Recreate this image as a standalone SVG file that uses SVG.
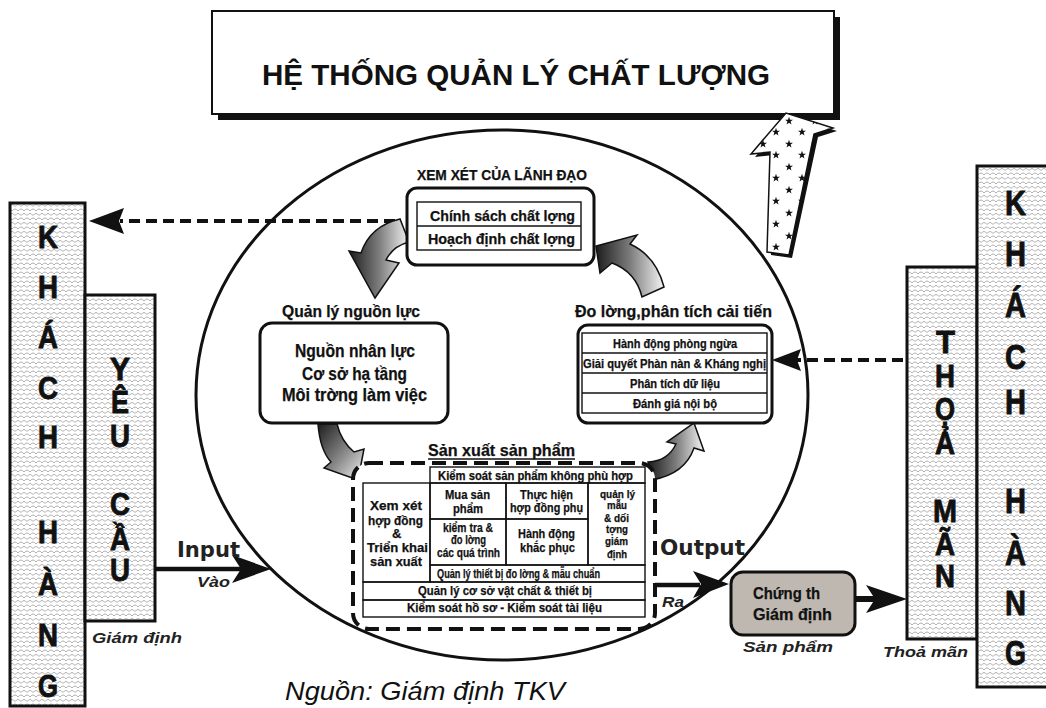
<svg xmlns="http://www.w3.org/2000/svg" width="1046" height="708" viewBox="0 0 1046 708">
<style>
.c{font-family:"Liberation Sans Narrow","Liberation Sans",Arial,sans-serif;font-weight:bold;fill:#111;stroke:#111;stroke-width:0.25}
.big{font-family:"Liberation Sans",Arial,sans-serif;font-weight:bold;font-size:32px;fill:#111;stroke:#111;stroke-width:0.9}
.bigr{font-family:"Liberation Sans",Arial,sans-serif;font-weight:bold;font-size:35px;fill:#111;stroke:#111;stroke-width:0.9}
.it{font-family:"Liberation Sans",Arial,sans-serif;font-weight:bold;font-style:italic;fill:#222}
.io{font-family:"DejaVu Sans",Verdana,sans-serif;font-weight:bold;font-size:21px;fill:#222}
.box{fill:#fff;stroke:#111;stroke-width:3}
.cell{fill:none;stroke:#111;stroke-width:1.4}
.panel{fill:url(#scl);stroke:#111;stroke-width:3}
.dash{stroke:#111;stroke-width:4;stroke-dasharray:11 6;fill:none}
.solid{stroke:#111;stroke-width:4.5;fill:none}
.curv{stroke:#111;stroke-width:1.5}
</style>
<defs>
<pattern id="scl" width="12" height="9" patternUnits="userSpaceOnUse">
<rect width="12" height="9" fill="#fff"/>
<path d="M0 4 Q3 0 6 4 Q9 0 12 4 M-3 8.5 Q0 4.5 3 8.5 M3 8.5 Q6 4.5 9 8.5 M9 8.5 Q12 4.5 15 8.5" stroke="#9a9a9a" stroke-width="0.8" fill="none"/>
</pattern>
<polygon id="star" points="0,-4.2 1,-1.375 3.99,-1.3 1.617,0.525 2.47,3.4 0,1.7 -2.47,3.4 -1.617,0.525 -3.99,-1.3 -1,-1.375" fill="#111"/>
<pattern id="stars" width="26" height="23" patternUnits="userSpaceOnUse" x="756" y="0">
<rect width="26" height="23" fill="#fff"/>
<use href="#star" x="7" y="6"/>
<use href="#star" x="20" y="17"/>
</pattern>
<linearGradient id="gr" x1="0" y1="0" x2="1" y2="0">
<stop offset="0" stop-color="#1c1c1c"/>
<stop offset="0.5" stop-color="#7c7c7c"/>
<stop offset="1" stop-color="#f4f4f4"/>
</linearGradient>
<linearGradient id="gr2" x1="0" y1="0" x2="1" y2="1">
<stop offset="0" stop-color="#1c1c1c"/>
<stop offset="0.55" stop-color="#8a8a8a"/>
<stop offset="1" stop-color="#f4f4f4"/>
</linearGradient>
</defs>
<rect width="1046" height="708" fill="#fff"/>

<g id="title">
<rect x="218" y="17" width="622" height="103" fill="#111"/>
<rect x="212" y="11" width="622" height="103" fill="#fff" stroke="#111" stroke-width="2"/>
<text x="262" y="85" font-family="Liberation Sans, Arial, sans-serif" font-weight="bold" font-size="30" textLength="508" lengthAdjust="spacingAndGlyphs" fill="#111">HỆ THỐNG QUẢN LÝ CHẤT LƯỢNG</text>
</g>

<g id="cycle">
<ellipse cx="502" cy="395" rx="306" ry="265" fill="none" stroke="#111" stroke-width="3"/>
</g>

<g id="star-arrow">
<polygon points="771,255 774,155 755,157 790,116 837,131 818,137 792,258" fill="#111"/>
<polygon points="767,252 770,152 751,154 786,113 833,128 814,134 789,255" fill="url(#stars)" stroke="#111" stroke-width="1.5"/>
</g>

<g id="connectors">
<line x1="395" y1="221" x2="120" y2="221" class="dash"/>
<polygon points="89,221 124,208 119,221 124,234" fill="#111"/>
<line x1="903" y1="360" x2="796" y2="360" class="dash"/>
<polygon points="772,360 801,349 797,360 801,371" fill="#111"/>
<line x1="155" y1="569" x2="242" y2="569" class="solid"/>
<polygon points="271,569 232,555 241,569 232,583" fill="#111"/>
<line x1="653" y1="585" x2="700" y2="585" class="solid"/>
<polygon points="729,584 693,571 701,584 693,598" fill="#111"/>
<line x1="855" y1="599" x2="876" y2="599" stroke="#111" stroke-width="6"/>
<polygon points="907,599 866,585 875,599 866,613" fill="#111"/>
<path d="M400 219 Q370 226 361 253 L349 251 L375 298 L399 263 L386 260 Q393 246 409 242 Z" fill="url(#gr)" class="curv"/>
<path d="M664 287 Q656 256 630 244 L637 235 L596 246 L600 273 L612 263 Q636 272 642 297 Z" fill="url(#gr)" class="curv"/>
<path d="M318 424 Q320 450 331 462 L324 468 L358 480 L364 449 L354 452 Q341 441 337 424 Z" fill="url(#gr2)" class="curv"/>
<path d="M648 462 Q668 461 676 444 L667 442 L694 423 L704 451 L694 448 Q685 474 652 480 Z" fill="url(#gr)" class="curv"/>
</g>

<g id="leader">
<text x="417" y="180" class="c" font-size="14" textLength="170" lengthAdjust="spacingAndGlyphs">XEM XÉT CỦA  LÃNH ĐẠO</text>
<rect x="407" y="188" width="187" height="77" rx="10" class="box"/>
<rect x="417" y="202" width="164" height="48" class="cell"/>
<line x1="417" y1="226" x2="581" y2="226" class="cell"/>
<text x="430" y="221" class="c" font-size="15" textLength="145" lengthAdjust="spacingAndGlyphs">Chính sách chất lợng</text>
<text x="428" y="244" class="c" font-size="15" textLength="147" lengthAdjust="spacingAndGlyphs">Hoạch định chất lợng</text>
</g>

<g id="resources">
<text x="282" y="317" class="c" font-size="17" textLength="138" lengthAdjust="spacingAndGlyphs">Quản lý nguồn lực</text>
<rect x="260" y="323" width="188" height="100" rx="12" class="box"/>
<text x="295" y="357" class="c" font-size="18" textLength="120" lengthAdjust="spacingAndGlyphs">Nguồn nhân lực</text>
<text x="302" y="380" class="c" font-size="18" textLength="105" lengthAdjust="spacingAndGlyphs">Cơ sở hạ tầng</text>
<text x="282" y="401" class="c" font-size="18" textLength="145" lengthAdjust="spacingAndGlyphs">Môi trờng làm việc</text>
</g>

<g id="measure">
<text x="575" y="317" class="c" font-size="17" textLength="197" lengthAdjust="spacingAndGlyphs">Đo lờng,phân tích cải tiến</text>
<rect x="578" y="325" width="194" height="98" rx="10" class="box"/>
<rect x="582" y="333" width="185" height="80" class="cell"/>
<line x1="582" y1="353" x2="767" y2="353" class="cell"/>
<line x1="582" y1="373" x2="767" y2="373" class="cell"/>
<line x1="582" y1="393" x2="767" y2="393" class="cell"/>
<text x="613" y="348" class="c" font-size="12" textLength="124" lengthAdjust="spacingAndGlyphs">Hành động phòng ngừa</text>
<text x="583" y="368" class="c" font-size="12" textLength="183" lengthAdjust="spacingAndGlyphs">Giải quyết Phàn nàn &amp; Kháng nghị</text>
<text x="630" y="388" class="c" font-size="12" textLength="90" lengthAdjust="spacingAndGlyphs">Phân tích dữ liệu</text>
<text x="633" y="408" class="c" font-size="12" textLength="84" lengthAdjust="spacingAndGlyphs">Đánh giá nội bộ</text>
</g>

<g id="production">
<text x="428" y="456" class="c" font-size="16" textLength="147" lengthAdjust="spacingAndGlyphs">Sản xuất sản phẩm</text>
<line x1="428" y1="459" x2="575" y2="459" stroke="#111" stroke-width="1.5"/>
<rect x="353" y="463" width="302" height="166" rx="16" fill="#fff" stroke="#111" stroke-width="4" stroke-dasharray="14 7"/>
<rect x="430" y="467" width="215" height="16" class="cell"/>
<rect x="363" y="483" width="67" height="99" class="cell"/>
<rect x="430" y="483" width="76" height="36" class="cell"/>
<rect x="506" y="483" width="82" height="36" class="cell"/>
<rect x="430" y="519" width="76" height="46" class="cell"/>
<rect x="506" y="519" width="82" height="46" class="cell"/>
<rect x="588" y="483" width="57" height="82" class="cell"/>
<rect x="430" y="565" width="215" height="17" class="cell"/>
<rect x="363" y="582" width="282" height="18" class="cell"/>
<rect x="363" y="600" width="282" height="17" class="cell"/>
<text x="438" y="480" class="c" font-size="12" textLength="195" lengthAdjust="spacingAndGlyphs">Kiểm soát  sản phẩm không phù hợp</text>
<text x="370" y="510" class="c" font-size="13" textLength="52" lengthAdjust="spacingAndGlyphs">Xem xét</text>
<text x="368" y="525" class="c" font-size="13" textLength="55" lengthAdjust="spacingAndGlyphs">hợp đồng</text>
<text x="392" y="538" class="c" font-size="13">&amp;</text>
<text x="367" y="552" class="c" font-size="13" textLength="61" lengthAdjust="spacingAndGlyphs">Triển khai</text>
<text x="370" y="566" class="c" font-size="13" textLength="52" lengthAdjust="spacingAndGlyphs">sản xuất</text>
<text x="445" y="499" class="c" font-size="13" textLength="45" lengthAdjust="spacingAndGlyphs">Mua sản</text>
<text x="453" y="513" class="c" font-size="13" textLength="30" lengthAdjust="spacingAndGlyphs">phẩm</text>
<text x="520" y="499" class="c" font-size="13" textLength="53" lengthAdjust="spacingAndGlyphs">Thực hiện</text>
<text x="510" y="512" class="c" font-size="13" textLength="73" lengthAdjust="spacingAndGlyphs">hợp đồng phụ</text>
<text x="443" y="532" class="c" font-size="12" textLength="50" lengthAdjust="spacingAndGlyphs">kiểm tra &amp;</text>
<text x="451" y="544" class="c" font-size="12" textLength="35" lengthAdjust="spacingAndGlyphs">đo lờng</text>
<text x="437" y="557" class="c" font-size="12" textLength="63" lengthAdjust="spacingAndGlyphs">các quá trình</text>
<text x="518" y="538" class="c" font-size="13" textLength="57" lengthAdjust="spacingAndGlyphs">Hành động</text>
<text x="520" y="552" class="c" font-size="13" textLength="55" lengthAdjust="spacingAndGlyphs">khắc phục</text>
<text x="600" y="498" class="c" font-size="11" textLength="35" lengthAdjust="spacingAndGlyphs">quản lý</text>
<text x="607" y="509" class="c" font-size="11" textLength="20" lengthAdjust="spacingAndGlyphs">mẫu</text>
<text x="604" y="522" class="c" font-size="11" textLength="25" lengthAdjust="spacingAndGlyphs">&amp; dối</text>
<text x="606" y="533" class="c" font-size="11" textLength="22" lengthAdjust="spacingAndGlyphs">tợng</text>
<text x="605" y="545" class="c" font-size="11" textLength="23" lengthAdjust="spacingAndGlyphs">giám</text>
<text x="607" y="558" class="c" font-size="11" textLength="20" lengthAdjust="spacingAndGlyphs">định</text>
<text x="437" y="578" class="c" font-size="12" textLength="163" lengthAdjust="spacingAndGlyphs">Quản lý thiết bị đo lờng &amp; mẫu chuẩn</text>
<text x="418" y="595" class="c" font-size="13" textLength="174" lengthAdjust="spacingAndGlyphs">Quản lý cơ sở vật chất &amp; thiết bị</text>
<text x="407" y="612" class="c" font-size="13" textLength="195" lengthAdjust="spacingAndGlyphs">Kiểm soát hồ sơ -  Kiểm soát tài liệu</text>
</g>

<g id="customer-left">
<rect x="10" y="203" width="75" height="503" class="panel"/>
<text x="38" y="248" class="big" textLength="20" lengthAdjust="spacingAndGlyphs">K</text>
<text x="38" y="298" class="big" textLength="20" lengthAdjust="spacingAndGlyphs">H</text>
<text x="38" y="348" class="big" textLength="20" lengthAdjust="spacingAndGlyphs">Á</text>
<text x="38" y="399" class="big" textLength="20" lengthAdjust="spacingAndGlyphs">C</text>
<text x="38" y="448" class="big" textLength="20" lengthAdjust="spacingAndGlyphs">H</text>
<text x="38" y="543" class="big" textLength="20" lengthAdjust="spacingAndGlyphs">H</text>
<text x="38" y="595" class="big" textLength="20" lengthAdjust="spacingAndGlyphs">À</text>
<text x="38" y="646" class="big" textLength="20" lengthAdjust="spacingAndGlyphs">N</text>
<text x="38" y="697" class="big" textLength="20" lengthAdjust="spacingAndGlyphs">G</text>
</g>

<g id="requirement">
<rect x="85" y="295" width="70" height="326" class="panel"/>
<text x="110" y="380" class="big" textLength="20" lengthAdjust="spacingAndGlyphs">Y</text>
<text x="111" y="413" class="big" textLength="18" lengthAdjust="spacingAndGlyphs">Ê</text>
<text x="110" y="447" class="big" textLength="20" lengthAdjust="spacingAndGlyphs">U</text>
<text x="110" y="515" class="big" textLength="20" lengthAdjust="spacingAndGlyphs">C</text>
<text x="110" y="550" class="big" font-size="29" textLength="20" lengthAdjust="spacingAndGlyphs">Ầ</text>
<text x="110" y="581" class="big" textLength="20" lengthAdjust="spacingAndGlyphs">U</text>
</g>

<g id="satisfaction">
<rect x="907" y="267" width="70" height="372" class="panel"/>
<text x="936" y="353" class="big" textLength="19" lengthAdjust="spacingAndGlyphs">T</text>
<text x="935" y="387" class="big" textLength="20" lengthAdjust="spacingAndGlyphs">H</text>
<text x="935" y="420" class="big" textLength="20" lengthAdjust="spacingAndGlyphs">Ọ</text>
<text x="935" y="454" class="big" font-size="30" textLength="20" lengthAdjust="spacingAndGlyphs">Ả</text>
<text x="933" y="522" class="big" textLength="24" lengthAdjust="spacingAndGlyphs">M</text>
<text x="935" y="555" class="big" font-size="30" textLength="20" lengthAdjust="spacingAndGlyphs">Ã</text>
<text x="935" y="587" class="big" textLength="20" lengthAdjust="spacingAndGlyphs">N</text>
</g>

<g id="customer-right">
<rect x="977" y="166" width="80" height="521" class="panel"/>
<text x="1005" y="215" class="bigr" textLength="21" lengthAdjust="spacingAndGlyphs">K</text>
<text x="1005" y="266" class="bigr" textLength="21" lengthAdjust="spacingAndGlyphs">H</text>
<text x="1005" y="317" class="bigr" textLength="21" lengthAdjust="spacingAndGlyphs">Á</text>
<text x="1005" y="369" class="bigr" textLength="21" lengthAdjust="spacingAndGlyphs">C</text>
<text x="1005" y="414" class="bigr" textLength="21" lengthAdjust="spacingAndGlyphs">H</text>
<text x="1005" y="513" class="bigr" textLength="21" lengthAdjust="spacingAndGlyphs">H</text>
<text x="1005" y="565" class="bigr" textLength="21" lengthAdjust="spacingAndGlyphs">À</text>
<text x="1005" y="615" class="bigr" textLength="21" lengthAdjust="spacingAndGlyphs">N</text>
<text x="1005" y="665" class="bigr" textLength="21" lengthAdjust="spacingAndGlyphs">G</text>
</g>

<g id="certificate">
<rect x="731" y="572" width="124" height="63" rx="12" fill="#bfb8b0" stroke="#111" stroke-width="3"/>
<text x="753" y="599" class="c" font-size="17" textLength="67" lengthAdjust="spacingAndGlyphs">Chứng th</text>
<text x="753" y="620" class="c" font-size="17" textLength="79" lengthAdjust="spacingAndGlyphs">Giám định</text>
</g>

<g id="labels">
<text x="177" y="557" class="io" textLength="63" lengthAdjust="spacingAndGlyphs">Input</text>
<text x="660" y="555" class="io" textLength="85" lengthAdjust="spacingAndGlyphs">Output</text>
<text x="197" y="587" class="it" font-size="14" textLength="33" lengthAdjust="spacingAndGlyphs">Vào</text>
<text x="662" y="607" class="it" font-size="14" textLength="22" lengthAdjust="spacingAndGlyphs">Ra</text>
<text x="92" y="643" class="it" font-size="15" textLength="90" lengthAdjust="spacingAndGlyphs">Giám định</text>
<text x="743" y="652" class="it" font-size="15" textLength="90" lengthAdjust="spacingAndGlyphs">Sản phẩm</text>
<text x="883" y="657" class="it" font-size="15" textLength="85" lengthAdjust="spacingAndGlyphs">Thoả mãn</text>
<text x="285" y="700" font-family="Liberation Sans, Arial, sans-serif" font-style="italic" font-size="25" fill="#111" textLength="280" lengthAdjust="spacingAndGlyphs">Nguồn: Giám định TKV</text>
</g>
</svg>
